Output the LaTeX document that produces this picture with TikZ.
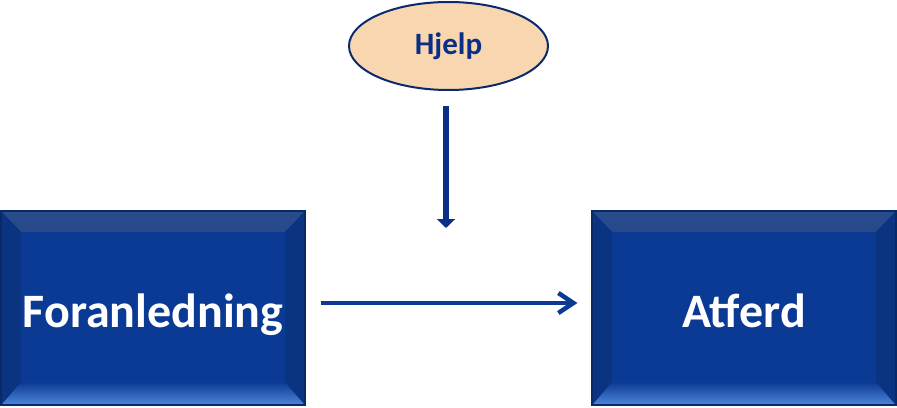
\documentclass[tikz,border=0pt]{standalone}
\usepackage{fontspec}
\setmainfont{Carlito}
\usepackage{tikz}
\usetikzlibrary{arrows.meta,shapes.geometric}

\definecolor{boksblaa}{HTML}{0B3A94}
\definecolor{boksmork}{HTML}{0A2A66}
\definecolor{bevellys}{HTML}{4F86DA}
\definecolor{beveltopp}{HTML}{2A4C8C}
\definecolor{pilblaa}{HTML}{0B2F86}
\definecolor{fersken}{HTML}{F8D7B0}
\definecolor{kant}{HTML}{0B2A6E}

\tikzset{
  boks/.style={rectangle, minimum width=304pt, minimum height=194pt,
    fill=boksblaa, draw=boksmork, line width=1.2pt, text=white,
    text height=38pt, text depth=0pt,
    font=\bfseries\fontsize{48}{52}\selectfont,
    path picture={
      % skrå kanter
      \shade[top color=beveltopp, bottom color=boksblaa!85!black] (path picture bounding box.north west) -- (path picture bounding box.north east)
        -- ([shift={(-20pt,-21pt)}]path picture bounding box.north east) -- ([shift={(20pt,-21pt)}]path picture bounding box.north west) -- cycle;
      \shade[top color=boksblaa, bottom color=bevellys] (path picture bounding box.south west) -- (path picture bounding box.south east)
        -- ([shift={(-20pt,23pt)}]path picture bounding box.south east) -- ([shift={(20pt,23pt)}]path picture bounding box.south west) -- cycle;
      \fill[boksblaa!88!black] (path picture bounding box.south west) -- ([shift={(20pt,23pt)}]path picture bounding box.south west)
        -- ([shift={(20pt,-21pt)}]path picture bounding box.north west) -- (path picture bounding box.north west) -- cycle;
      \fill[boksblaa!88!black] (path picture bounding box.south east) -- ([shift={(-20pt,23pt)}]path picture bounding box.south east)
        -- ([shift={(-20pt,-21pt)}]path picture bounding box.north east) -- (path picture bounding box.north east) -- cycle;
    }},
  sky/.style={ellipse, minimum width=199pt, minimum height=88pt, fill=fersken, draw=kant,
    line width=2pt, text=pilblaa, font=\bfseries\fontsize{31}{34}\selectfont},
  pil/.style={line width=4.5pt, draw=boksblaa, -{Straight Barb[length=15pt,width=20pt]}},
  blokkpil/.style={line width=6pt, draw=pilblaa, -{Triangle[length=9pt,width=18pt]}}
}

\begin{document}
\begin{tikzpicture}[x=1pt,y=-1pt]
  \useasboundingbox (0,0) rectangle (897,407);
  \node[sky] (hjelp) at (448.5,46) {Hjelp};
  \node[boks] (foranledning) at (153,308) {Foranledning};
  \node[boks] (atferd) at (744,308) {Atferd};
  \coordinate (pilende) at (446,228);
  \draw[blokkpil] (hjelp.south -| pilende) ++(0,15) -- (pilende);
  \draw[pil] ([yshift=5pt]foranledning.east) ++(15,0) -- ([shift={(-14pt,5pt)}]atferd.west);
\end{tikzpicture}
\end{document}
